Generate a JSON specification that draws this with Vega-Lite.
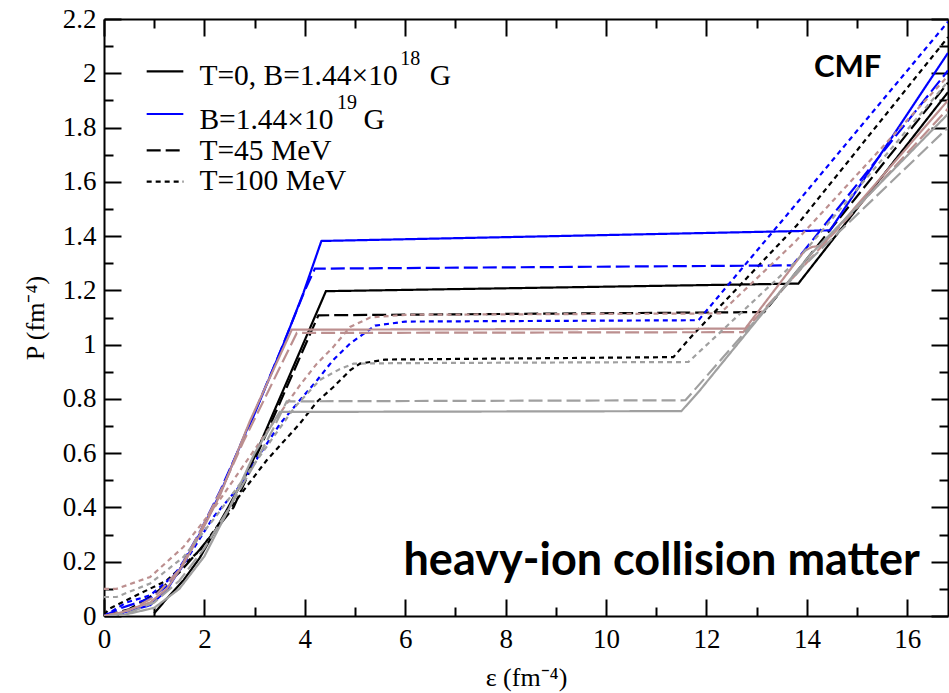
{
  "$schema": "https://vega.github.io/schema/vega-lite/v6.json",
  "width": 844,
  "height": 597,
  "autosize": "none",
  "padding": {"left": 104, "top": 19, "right": 1, "bottom": 77},
  "background": "white",
  "config": {"view": {"stroke": null}},
  "datasets": {
    "curves": [
      {"s":"ks","m":"k","T":"0","x":1.0,"y":0.01},{"s":"ks","m":"k","T":"0","x":1.25,"y":0.064},{"s":"ks","m":"k","T":"0","x":1.58,"y":0.131},{"s":"ks","m":"k","T":"0","x":1.91,"y":0.215},{"s":"ks","m":"k","T":"0","x":2.44,"y":0.389},{"s":"ks","m":"k","T":"0","x":2.9,"y":0.545},{"s":"ks","m":"k","T":"0","x":3.31,"y":0.721},{"s":"ks","m":"k","T":"0","x":4.42,"y":1.197},{"s":"ks","m":"k","T":"0","x":13.83,"y":1.225},{"s":"ks","m":"k","T":"0","x":16.81,"y":1.93},
      {"s":"kd","m":"k","T":"45","x":0,"y":0},{"s":"kd","m":"k","T":"45","x":0.5,"y":0.025},{"s":"kd","m":"k","T":"45","x":1.0,"y":0.08},{"s":"kd","m":"k","T":"45","x":1.25,"y":0.12},{"s":"kd","m":"k","T":"45","x":1.5,"y":0.16},{"s":"kd","m":"k","T":"45","x":1.91,"y":0.245},{"s":"kd","m":"k","T":"45","x":2.58,"y":0.4},{"s":"kd","m":"k","T":"45","x":3.3,"y":0.7},{"s":"kd","m":"k","T":"45","x":4.27,"y":1.108},{"s":"kd","m":"k","T":"45","x":13.15,"y":1.12},{"s":"kd","m":"k","T":"45","x":16.81,"y":1.965},
      {"s":"kt","m":"k","T":"100","x":0,"y":0.005},{"s":"kt","m":"k","T":"100","x":0.12,"y":0.028},{"s":"kt","m":"k","T":"100","x":0.58,"y":0.07},{"s":"kt","m":"k","T":"100","x":1.25,"y":0.131},{"s":"kt","m":"k","T":"100","x":1.91,"y":0.242},{"s":"kt","m":"k","T":"100","x":2.58,"y":0.414},{"s":"kt","m":"k","T":"100","x":3.24,"y":0.574},{"s":"kt","m":"k","T":"100","x":3.9,"y":0.709},{"s":"kt","m":"k","T":"100","x":4.24,"y":0.789},{"s":"kt","m":"k","T":"100","x":4.57,"y":0.844},{"s":"kt","m":"k","T":"100","x":4.9,"y":0.905},{"s":"kt","m":"k","T":"100","x":5.1,"y":0.93},{"s":"kt","m":"k","T":"100","x":5.6,"y":0.945},{"s":"kt","m":"k","T":"100","x":11.34,"y":0.954},{"s":"kt","m":"k","T":"100","x":11.7,"y":1.03},{"s":"kt","m":"k","T":"100","x":13.8,"y":1.44},{"s":"kt","m":"k","T":"100","x":16.81,"y":2.133},
      {"s":"bs","m":"b","T":"0","x":0,"y":0},{"s":"bs","m":"b","T":"0","x":0.32,"y":0.009},{"s":"bs","m":"b","T":"0","x":0.92,"y":0.04},{"s":"bs","m":"b","T":"0","x":1.25,"y":0.095},{"s":"bs","m":"b","T":"0","x":1.58,"y":0.193},{"s":"bs","m":"b","T":"0","x":1.91,"y":0.304},{"s":"bs","m":"b","T":"0","x":2.31,"y":0.45},{"s":"bs","m":"b","T":"0","x":2.84,"y":0.684},{"s":"bs","m":"b","T":"0","x":2.97,"y":0.733},{"s":"bs","m":"b","T":"0","x":3.57,"y":1.0},{"s":"bs","m":"b","T":"0","x":3.97,"y":1.19},{"s":"bs","m":"b","T":"0","x":4.33,"y":1.382},{"s":"bs","m":"b","T":"0","x":14.46,"y":1.421},{"s":"bs","m":"b","T":"0","x":16.81,"y":2.075},
      {"s":"bd","m":"b","T":"45","x":0,"y":0},{"s":"bd","m":"b","T":"45","x":0.32,"y":0.028},{"s":"bd","m":"b","T":"45","x":0.92,"y":0.065},{"s":"bd","m":"b","T":"45","x":1.25,"y":0.11},{"s":"bd","m":"b","T":"45","x":1.58,"y":0.2},{"s":"bd","m":"b","T":"45","x":1.91,"y":0.31},{"s":"bd","m":"b","T":"45","x":2.31,"y":0.46},{"s":"bd","m":"b","T":"45","x":2.84,"y":0.68},{"s":"bd","m":"b","T":"45","x":3.5,"y":0.97},{"s":"bd","m":"b","T":"45","x":4.0,"y":1.2},{"s":"bd","m":"b","T":"45","x":4.2,"y":1.28},{"s":"bd","m":"b","T":"45","x":13.71,"y":1.292},{"s":"bd","m":"b","T":"45","x":16.81,"y":2.01},
      {"s":"bt","m":"b","T":"100","x":0,"y":0},{"s":"bt","m":"b","T":"100","x":0.45,"y":0.05},{"s":"bt","m":"b","T":"100","x":0.92,"y":0.076},{"s":"bt","m":"b","T":"100","x":1.51,"y":0.168},{"s":"bt","m":"b","T":"100","x":2.18,"y":0.365},{"s":"bt","m":"b","T":"100","x":2.71,"y":0.48},{"s":"bt","m":"b","T":"100","x":3.11,"y":0.598},{"s":"bt","m":"b","T":"100","x":3.51,"y":0.709},{"s":"bt","m":"b","T":"100","x":3.9,"y":0.795},{"s":"bt","m":"b","T":"100","x":4.24,"y":0.868},{"s":"bt","m":"b","T":"100","x":4.56,"y":0.942},{"s":"bt","m":"b","T":"100","x":4.9,"y":1.004},{"s":"bt","m":"b","T":"100","x":5.4,"y":1.07},{"s":"bt","m":"b","T":"100","x":6.0,"y":1.085},{"s":"bt","m":"b","T":"100","x":11.84,"y":1.09},{"s":"bt","m":"b","T":"100","x":13.53,"y":1.462},{"s":"bt","m":"b","T":"100","x":16.81,"y":2.19},
      {"s":"rs","m":"r","T":"0","x":0,"y":0},{"s":"rs","m":"r","T":"0","x":0.32,"y":0.012},{"s":"rs","m":"r","T":"0","x":0.92,"y":0.05},{"s":"rs","m":"r","T":"0","x":1.25,"y":0.1},{"s":"rs","m":"r","T":"0","x":1.58,"y":0.19},{"s":"rs","m":"r","T":"0","x":1.91,"y":0.3},{"s":"rs","m":"r","T":"0","x":2.31,"y":0.445},{"s":"rs","m":"r","T":"0","x":2.91,"y":0.72},{"s":"rs","m":"r","T":"0","x":3.74,"y":1.055},{"s":"rs","m":"r","T":"0","x":12.77,"y":1.059},{"s":"rs","m":"r","T":"0","x":13.95,"y":1.345},{"s":"rs","m":"r","T":"0","x":14.1,"y":1.36},{"s":"rs","m":"r","T":"0","x":14.3,"y":1.365},{"s":"rs","m":"r","T":"0","x":16.81,"y":1.9},
      {"s":"rd","m":"r","T":"45","x":0,"y":0},{"s":"rd","m":"r","T":"45","x":0.5,"y":0.02},{"s":"rd","m":"r","T":"45","x":1.0,"y":0.07},{"s":"rd","m":"r","T":"45","x":1.5,"y":0.17},{"s":"rd","m":"r","T":"45","x":1.91,"y":0.31},{"s":"rd","m":"r","T":"45","x":2.44,"y":0.505},{"s":"rd","m":"r","T":"45","x":2.77,"y":0.64},{"s":"rd","m":"r","T":"45","x":3.17,"y":0.79},{"s":"rd","m":"r","T":"45","x":3.84,"y":1.043},{"s":"rd","m":"r","T":"45","x":12.73,"y":1.046},{"s":"rd","m":"r","T":"45","x":16.81,"y":1.87},
      {"s":"rt","m":"r","T":"100","x":0,"y":0.1},{"s":"rt","m":"r","T":"100","x":0.25,"y":0.1},{"s":"rt","m":"r","T":"100","x":0.92,"y":0.144},{"s":"rt","m":"r","T":"100","x":1.58,"y":0.254},{"s":"rt","m":"r","T":"100","x":2.2,"y":0.4},{"s":"rt","m":"r","T":"100","x":2.8,"y":0.56},{"s":"rt","m":"r","T":"100","x":3.4,"y":0.72},{"s":"rt","m":"r","T":"100","x":3.9,"y":0.85},{"s":"rt","m":"r","T":"100","x":4.24,"y":0.93},{"s":"rt","m":"r","T":"100","x":4.56,"y":0.99},{"s":"rt","m":"r","T":"100","x":4.9,"y":1.065},{"s":"rt","m":"r","T":"100","x":5.3,"y":1.1},{"s":"rt","m":"r","T":"100","x":6.0,"y":1.11},{"s":"rt","m":"r","T":"100","x":12.27,"y":1.115},{"s":"rt","m":"r","T":"100","x":13.76,"y":1.378},{"s":"rt","m":"r","T":"100","x":16.81,"y":1.99},
      {"s":"gs","m":"g","T":"0","x":0.3,"y":0},{"s":"gs","m":"g","T":"0","x":1.0,"y":0.03},{"s":"gs","m":"g","T":"0","x":1.5,"y":0.1},{"s":"gs","m":"g","T":"0","x":2.0,"y":0.22},{"s":"gs","m":"g","T":"0","x":2.5,"y":0.4},{"s":"gs","m":"g","T":"0","x":3.0,"y":0.6},{"s":"gs","m":"g","T":"0","x":3.5,"y":0.752},{"s":"gs","m":"g","T":"0","x":11.5,"y":0.755},{"s":"gs","m":"g","T":"0","x":11.87,"y":0.832},{"s":"gs","m":"g","T":"0","x":14.06,"y":1.33},{"s":"gs","m":"g","T":"0","x":16.81,"y":1.85},
      {"s":"gd","m":"g","T":"45","x":0.1,"y":0},{"s":"gd","m":"g","T":"45","x":0.5,"y":0.012},{"s":"gd","m":"g","T":"45","x":1.0,"y":0.05},{"s":"gd","m":"g","T":"45","x":1.5,"y":0.13},{"s":"gd","m":"g","T":"45","x":2.0,"y":0.25},{"s":"gd","m":"g","T":"45","x":2.5,"y":0.4},{"s":"gd","m":"g","T":"45","x":3.0,"y":0.56},{"s":"gd","m":"g","T":"45","x":3.37,"y":0.69},{"s":"gd","m":"g","T":"45","x":3.64,"y":0.791},{"s":"gd","m":"g","T":"45","x":11.58,"y":0.795},{"s":"gd","m":"g","T":"45","x":13.91,"y":1.286},{"s":"gd","m":"g","T":"45","x":16.81,"y":1.8},
      {"s":"gt","m":"g","T":"100","x":0,"y":0.07},{"s":"gt","m":"g","T":"100","x":0.25,"y":0.07},{"s":"gt","m":"g","T":"100","x":0.92,"y":0.12},{"s":"gt","m":"g","T":"100","x":1.58,"y":0.217},{"s":"gt","m":"g","T":"100","x":2.2,"y":0.36},{"s":"gt","m":"g","T":"100","x":2.8,"y":0.51},{"s":"gt","m":"g","T":"100","x":3.3,"y":0.64},{"s":"gt","m":"g","T":"100","x":3.8,"y":0.77},{"s":"gt","m":"g","T":"100","x":4.3,"y":0.87},{"s":"gt","m":"g","T":"100","x":4.7,"y":0.91},{"s":"gt","m":"g","T":"100","x":4.97,"y":0.93},{"s":"gt","m":"g","T":"100","x":6.0,"y":0.932},{"s":"gt","m":"g","T":"100","x":11.64,"y":0.936},{"s":"gt","m":"g","T":"100","x":13.8,"y":1.31},{"s":"gt","m":"g","T":"100","x":16.81,"y":1.97},
      {"s":"L1","m":"k","T":"0","x":0.85,"y":2.007},{"s":"L1","m":"k","T":"0","x":1.58,"y":2.007},
      {"s":"L2","m":"b","T":"0","x":0.85,"y":1.85},{"s":"L2","m":"b","T":"0","x":1.58,"y":1.85},
      {"s":"L3","m":"k","T":"45","x":0.85,"y":1.716},{"s":"L3","m":"k","T":"45","x":1.58,"y":1.716},
      {"s":"L4","m":"k","T":"100","x":0.85,"y":1.601},{"s":"L4","m":"k","T":"100","x":1.58,"y":1.601}
    ]
  },
  "layer": [
    {
      "data": {"name": "curves"},
      "mark": {"type": "line", "clip": true},
      "encoding": {
        "x": {
          "field": "x", "type": "quantitative",
          "scale": {"domain": [0, 16.81], "nice": false, "zero": false},
          "axis": {
            "orient": "bottom",
            "values": [0,2,4,6,8,10,12,14,16],
            "grid": false, "ticks": true, "tickSize": -17, "tickWidth": 2, "tickColor": "black",
            "domainColor": "black", "domainWidth": 2,
            "labelFont": "Liberation Serif", "labelFontSize": 27, "labelColor": "black", "labelPadding": 27,
            "labelFlush": false, "labelOverlap": false,
            "title": "ε (fm⁻⁴)", "titleFont": "Liberation Serif", "titleFontSize": 26, "titleFontWeight": "normal", "titleColor": "black", "titlePadding": 12
          }
        },
        "y": {
          "field": "y", "type": "quantitative",
          "scale": {"domain": [0, 2.2], "nice": false},
          "axis": {
            "orient": "left",
            "values": [0,0.2,0.4,0.6,0.8,1,1.2,1.4,1.6,1.8,2,2.2],
            "labelExpr": "toString(round(datum.value*10)/10)",
            "grid": false, "ticks": true, "tickSize": -17, "tickWidth": 2, "tickColor": "black",
            "domainColor": "black", "domainWidth": 2,
            "labelFont": "Liberation Serif", "labelFontSize": 27, "labelColor": "black", "labelPadding": 25,
            "labelFlush": false, "labelOverlap": false,
            "title": "P (fm⁻⁴)", "titleFont": "Liberation Serif", "titleFontSize": 26, "titleFontWeight": "normal", "titleColor": "black", "titlePadding": 14
          }
        },
        "detail": {"field": "s", "type": "nominal"},
        "color": {"field": "m", "type": "nominal", "legend": null,
          "scale": {"domain": ["k","b","r","g"], "range": ["#000000","#0000ff","#bc8f8f","#a0a0a0"]}},
        "strokeDash": {"field": "T", "type": "nominal", "legend": null,
          "scale": {"domain": ["0","45","100"], "range": [[1,0],[14,5],[5,4]]}},
        "strokeWidth": {"field": "m", "type": "nominal", "legend": null,
          "scale": {"domain": ["k","b","r","g"], "range": [2.2,2.2,3,2.4]}}
      }
    },
    {
      "data": {"values": [
        {"x": 1.9, "y": 1.955, "t": "T=0, B=1.44×10"},
        {"x": 6.49, "y": 1.955, "t": "G"},
        {"x": 1.9, "y": 1.796, "t": "B=1.44×10"},
        {"x": 5.17, "y": 1.796, "t": "G"},
        {"x": 1.9, "y": 1.682, "t": "T=45 MeV"},
        {"x": 1.9, "y": 1.569, "t": "T=100 MeV"}
      ]},
      "mark": {"type": "text", "font": "Liberation Serif", "fontSize": 29.5, "align": "left", "baseline": "alphabetic", "color": "black"},
      "encoding": {
        "x": {"field": "x", "type": "quantitative", "scale": {"domain": [0, 16.81], "nice": false, "zero": false},
          "axis": {"orient": "top", "values": [0,2,4,6,8,10,12,14,16], "labels": false, "title": null, "grid": false,
            "ticks": true, "tickSize": -17, "tickWidth": 2, "tickColor": "black", "domainColor": "black", "domainWidth": 2}},
        "y": {"field": "y", "type": "quantitative", "scale": {"domain": [0, 2.2], "nice": false},
          "axis": {"orient": "right", "values": [0,0.2,0.4,0.6,0.8,1,1.2,1.4,1.6,1.8,2,2.2], "labels": false, "title": null, "grid": false,
            "ticks": true, "tickSize": -17, "tickWidth": 2, "tickColor": "black", "domainColor": "black", "domainWidth": 2}},
        "text": {"field": "t", "type": "nominal"}
      }
    },
    {
      "data": {"values": [
        {"x": 5.9, "y": 2.029, "t": "18"},
        {"x": 4.64, "y": 1.867, "t": "19"}
      ]},
      "mark": {"type": "text", "font": "Liberation Serif", "fontSize": 20, "align": "left", "baseline": "alphabetic", "color": "black"},
      "encoding": {
        "x": {"field": "x", "type": "quantitative", "scale": {"domain": [0, 16.81], "nice": false, "zero": false},
          "axis": {"orient": "bottom", "values": [1,3,5,7,9,11,13,15], "labels": false, "title": null, "grid": false, "domain": false,
            "ticks": true, "tickSize": -9, "tickWidth": 2, "tickColor": "black"}},
        "y": {"field": "y", "type": "quantitative", "scale": {"domain": [0, 2.2], "nice": false},
          "axis": {"orient": "left", "values": [0.1,0.3,0.5,0.7,0.9,1.1,1.3,1.5,1.7,1.9,2.1], "labels": false, "title": null, "grid": false, "domain": false,
            "ticks": true, "tickSize": -9, "tickWidth": 2, "tickColor": "black"}},
        "text": {"field": "t", "type": "nominal"}
      }
    },
    {
      "data": {"values": [{"x": 14.14, "y": 1.985, "t": "CMF"}]},
      "mark": {"type": "text", "font": "Lato", "fontWeight": "bold", "fontSize": 31, "align": "left", "baseline": "alphabetic", "color": "black"},
      "encoding": {
        "x": {"field": "x", "type": "quantitative", "scale": {"domain": [0, 16.81], "nice": false, "zero": false},
          "axis": {"orient": "top", "values": [1,3,5,7,9,11,13,15], "labels": false, "title": null, "grid": false, "domain": false,
            "ticks": true, "tickSize": -9, "tickWidth": 2, "tickColor": "black"}},
        "y": {"field": "y", "type": "quantitative", "scale": {"domain": [0, 2.2], "nice": false},
          "axis": {"orient": "right", "values": [0.1,0.3,0.5,0.7,0.9,1.1,1.3,1.5,1.7,1.9,2.1], "labels": false, "title": null, "grid": false, "domain": false,
            "ticks": true, "tickSize": -9, "tickWidth": 2, "tickColor": "black"}},
        "text": {"field": "t", "type": "nominal"}
      }
    },
    {
      "data": {"values": [{"x": 16.25, "y": 0.15, "t": "heavy-ion collision matter"}]},
      "mark": {"type": "text", "font": "Lato", "fontWeight": "bold", "fontSize": 45, "align": "right", "baseline": "alphabetic", "color": "black"},
      "encoding": {
        "x": {"field": "x", "type": "quantitative", "scale": {"domain": [0, 16.81], "nice": false, "zero": false}, "axis": null},
        "y": {"field": "y", "type": "quantitative", "scale": {"domain": [0, 2.2], "nice": false}, "axis": null},
        "text": {"field": "t", "type": "nominal"}
      }
    }
  ],
  "resolve": {"axis": {"x": "independent", "y": "independent"}}
}
